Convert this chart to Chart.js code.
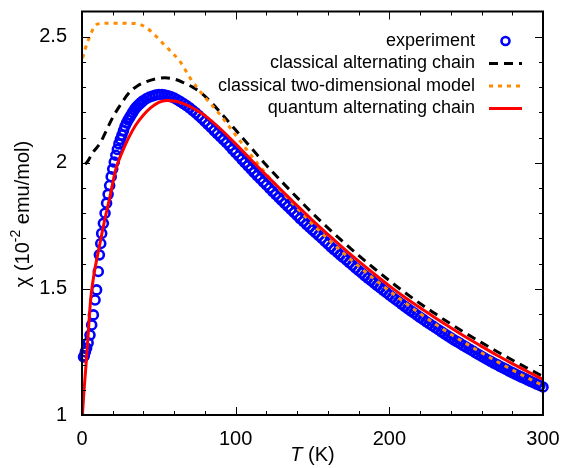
<!DOCTYPE html>
<html>
<head>
<meta charset="utf-8">
<script src="https://cdn.jsdelivr.net/npm/chart.js@4.4.1/dist/chart.umd.min.js"></script>
<style>
  html, body { margin: 0; padding: 0; background: #fff; }
  #wrap { width: 566px; height: 468px; }
</style>
</head>
<body>
<div id="wrap"><canvas id="chi"></canvas></div>
<script>
// 读图估计的数据 (T in K, chi in 10^-2 emu/mol)
const tExp = [1.0, 1.5, 2.2, 3.0, 4.0, 5.2, 6.3, 7.4, 8.5, 9.5, 10.6, 11.3, 12.2, 12.8, 13.9, 15, 16, 17, 18, 19,
  20, 21, 22, 23, 24, 25, 26, 27, 28, 29, 30, 31, 32, 33, 34, 35, 36, 37, 38, 39,
  40, 42, 44, 46, 48, 50, 52, 54, 56, 58,
  60, 62, 64, 66, 68, 70, 72, 74, 76, 78, 80, 82, 84, 86, 88, 90, 92, 94, 96, 98,
  100, 102, 104, 106, 108, 110, 112, 114, 116, 118, 120, 122, 124, 126, 128, 130, 132, 134, 136, 138,
  140, 142, 144, 146, 148, 150, 152, 154, 156, 158, 160, 162, 164, 166, 168, 170, 172, 174, 176, 178,
  180, 182, 184, 186, 188, 190, 192, 194, 196, 198, 200, 202, 204, 206, 208, 210, 212, 214, 216, 218,
  220, 222, 224, 226, 228, 230, 232, 234, 236, 238, 240, 242, 244, 246, 248, 250, 252, 254, 256, 258,
  260, 262, 264, 266, 268, 270, 272, 274, 276, 278, 280, 282, 284, 286, 288, 290, 292, 294, 296, 298, 300];
const chiExp = [1.23, 1.235, 1.25, 1.265, 1.286, 1.317, 1.357, 1.397, 1.456, 1.496, 1.569, 1.635, 1.68, 1.72, 1.76, 1.80, 1.84, 1.875, 1.91, 1.945,
  1.975, 2.003, 2.03, 2.053, 2.075, 2.093, 2.11, 2.128, 2.145, 2.158, 2.17, 2.18, 2.19, 2.20, 2.21, 2.218, 2.225, 2.231, 2.237, 2.242,
  2.247, 2.255, 2.261, 2.265, 2.269, 2.271, 2.271, 2.269, 2.266, 2.262,
  2.257, 2.25, 2.243, 2.235, 2.227, 2.218, 2.208, 2.198, 2.187, 2.176, 2.164, 2.152, 2.14, 2.128, 2.116, 2.104, 2.092, 2.08, 2.067, 2.053,
  2.04, 2.027, 2.014, 2.001, 1.988, 1.975, 1.962, 1.949, 1.937, 1.924, 1.912, 1.90, 1.887, 1.875, 1.863, 1.851, 1.839, 1.827, 1.815, 1.803,
  1.791, 1.779, 1.768, 1.756, 1.745, 1.734, 1.723, 1.712, 1.701, 1.689, 1.678, 1.667, 1.656, 1.646, 1.635, 1.625, 1.615, 1.604, 1.594, 1.583,
  1.573, 1.563, 1.553, 1.543, 1.534, 1.524, 1.514, 1.505, 1.495, 1.486, 1.476, 1.467, 1.458, 1.449, 1.44, 1.431, 1.422, 1.413, 1.405, 1.396,
  1.387, 1.379, 1.37, 1.362, 1.354, 1.346, 1.338, 1.33, 1.322, 1.314, 1.306, 1.298, 1.291, 1.284, 1.276, 1.269, 1.262, 1.255, 1.247, 1.24,
  1.233, 1.226, 1.219, 1.213, 1.206, 1.20, 1.193, 1.187, 1.181, 1.174, 1.168, 1.162, 1.156, 1.15, 1.145, 1.139, 1.133, 1.128, 1.122, 1.117, 1.111];

const tClassic = [2, 3, 7, 12, 16, 20, 25, 31, 36, 42, 48, 54, 60, 66, 72, 77, 84, 90, 100, 110, 120, 130, 140, 150, 160, 170, 180, 190, 200,
  210, 220, 230, 240, 250, 260, 270, 280, 290, 300];
const chiClassic = [1.995, 2.0, 2.04, 2.08, 2.13, 2.18, 2.23, 2.28, 2.305, 2.322, 2.333, 2.337, 2.332, 2.318, 2.30, 2.28, 2.24, 2.20, 2.13, 2.06, 1.99, 1.925, 1.862, 1.80, 1.742, 1.686, 1.633, 1.582, 1.533,
  1.486, 1.442, 1.401, 1.361, 1.323, 1.287, 1.252, 1.218, 1.185, 1.153];

const t2D = [0.4, 2, 4, 6, 8, 10, 15, 20, 25, 30, 35, 38, 42, 46, 50, 54, 58, 64, 70, 76, 80, 85, 90, 95, 100, 110, 120, 130, 140, 150, 160, 170, 180, 190, 200,
  210, 220, 230, 240, 250, 260, 270, 280, 290, 300];
const chi2D = [2.415, 2.45, 2.485, 2.515, 2.54, 2.55, 2.553, 2.553, 2.554, 2.553, 2.552, 2.548, 2.535, 2.515, 2.49, 2.465, 2.44, 2.40, 2.34, 2.29, 2.26, 2.225, 2.19, 2.15, 2.11, 2.03, 1.955, 1.885, 1.82, 1.757, 1.698, 1.643, 1.59, 1.54, 1.492,
  1.446, 1.402, 1.36, 1.32, 1.283, 1.247, 1.212, 1.179, 1.147, 1.117];

const tQuantum = [0.3, 1, 2, 3, 4, 5, 6, 8, 10, 12, 15, 18, 22, 26, 30, 35, 40, 45, 50, 55, 60, 65, 70, 75, 80, 90, 100, 110, 120, 130, 140, 150, 160, 170, 180, 190, 200,
  210, 220, 230, 240, 250, 260, 270, 280, 290, 300];
const chiQuantum = [1.0, 1.07, 1.15, 1.23, 1.32, 1.41, 1.48, 1.565, 1.63, 1.69, 1.78, 1.86, 1.975, 2.04, 2.095, 2.15, 2.19, 2.22, 2.24, 2.247, 2.245, 2.237, 2.224, 2.207, 2.187, 2.135, 2.075, 2.012, 1.95, 1.89, 1.83, 1.772, 1.716, 1.662, 1.61, 1.56, 1.512,
  1.467, 1.425, 1.385, 1.346, 1.308, 1.272, 1.237, 1.204, 1.172, 1.141];

const xTicks = [0, 100, 200, 300];
const yTicks = [1, 1.5, 2, 2.5];
const legendLabels = ['experiment', 'classical alternating chain', 'classical two-dimensional model', 'quantum alternating chain'];

const FONT = 'Liberation Sans, Arial, Helvetica, sans-serif';

function pairs(xs, ys) {
    return xs.map((x, i) => ({ x: x, y: ys[i] }));
}

// 去掉刻度标签带来的额外边距, 让绘图区位置固定
function noPad(s) {
    s.paddingTop = 0;
    s.paddingBottom = 0;
    s.paddingLeft = 0;
    s.paddingRight = 0;
}

// 画框、向内的刻度、轴标题和图例
const decorPlugin = {
    id: 'decor',
    afterDatasetsDraw(chart) {
        const ctx = chart.ctx;
        const a = chart.chartArea;
        const xs = chart.scales.x, ys = chart.scales.y;
        ctx.save();
        ctx.strokeStyle = '#000';
        ctx.lineWidth = 1;
        // minor ticks
        for (let v = 20; v < 300; v += 20) {
            if (v % 100 === 0) continue;
            const px = Math.round(xs.getPixelForValue(v)) + 0.5;
            ctx.beginPath();
            ctx.moveTo(px, a.bottom); ctx.lineTo(px, a.bottom - 4);
            ctx.moveTo(px, a.top); ctx.lineTo(px, a.top + 4);
            ctx.stroke();
        }
        for (let k = 11; k < 26; k++) {
            if (k % 5 === 0) continue;
            const py = Math.round(ys.getPixelForValue(k / 10)) + 0.5;
            ctx.beginPath();
            ctx.moveTo(a.left, py); ctx.lineTo(a.left + 4, py);
            ctx.moveTo(a.right, py); ctx.lineTo(a.right - 4, py);
            ctx.stroke();
        }
        // major ticks
        xTicks.forEach(v => {
            const px = Math.round(xs.getPixelForValue(v)) + 0.5;
            ctx.beginPath();
            ctx.moveTo(px, a.bottom); ctx.lineTo(px, a.bottom - 8);
            ctx.moveTo(px, a.top); ctx.lineTo(px, a.top + 8);
            ctx.stroke();
        });
        yTicks.forEach(v => {
            const py = Math.round(ys.getPixelForValue(v)) + 0.5;
            ctx.beginPath();
            ctx.moveTo(a.left, py); ctx.lineTo(a.left + 8, py);
            ctx.moveTo(a.right, py); ctx.lineTo(a.right - 8, py);
            ctx.stroke();
        });
        // frame
        ctx.lineWidth = 2;
        ctx.strokeRect(a.left, a.top, a.right - a.left, a.bottom - a.top);
        ctx.restore();
    },
    afterDraw(chart) {
        const ctx = chart.ctx;
        const a = chart.chartArea;
        ctx.save();
        ctx.fillStyle = '#000';
        ctx.textBaseline = 'middle';

        // x title: T (K)
        const italic = 'italic 20px ' + FONT, normal = '20px ' + FONT;
        ctx.font = italic;
        const wT = ctx.measureText('T').width;
        ctx.font = normal;
        const wK = ctx.measureText(' (K)').width;
        const cx = (a.left + a.right) / 2;
        const x0 = cx - (wT + wK) / 2;
        ctx.textAlign = 'left';
        ctx.font = italic;
        ctx.fillText('T', x0, 455);
        ctx.font = normal;
        ctx.fillText(' (K)', x0 + wT, 455);

        // y title: χ (10^-2 emu/mol)
        ctx.translate(23, 214);
        ctx.rotate(-Math.PI / 2);
        const sup = '14px ' + FONT;
        ctx.font = normal;
        const w1 = ctx.measureText('χ (10').width;
        const w3 = ctx.measureText(' emu/mol)').width;
        ctx.font = sup;
        const w2 = ctx.measureText('-2').width;
        const s = -(w1 + w2 + w3) / 2;
        ctx.font = normal;
        ctx.fillText('χ (10', s, 0);
        ctx.font = sup;
        ctx.fillText('-2', s + w1, -7);
        ctx.font = normal;
        ctx.fillText(' emu/mol)', s + w1 + w2, 0);
        ctx.restore();

        // legend
        ctx.save();
        ctx.font = '18px ' + FONT;
        ctx.textAlign = 'right';
        ctx.textBaseline = 'middle';
        ctx.fillStyle = '#000';
        const rows = [41, 63.5, 86, 108.5];
        const ds = chart.data.datasets;
        legendLabels.forEach((lab, i) => {
            const y = rows[i];
            ctx.fillText(lab, 475, y);
            const d = ds[i];
            ctx.save();
            ctx.strokeStyle = d.borderColor;
            ctx.lineWidth = d.borderWidth;
            if (i === 0) {
                ctx.beginPath();
                ctx.arc(505.5, y, 4, 0, Math.PI * 2);
                ctx.stroke();
            } else {
                ctx.setLineDash(d.borderDash || []);
                ctx.beginPath();
                ctx.moveTo(489, y);
                ctx.lineTo(522, y);
                ctx.stroke();
            }
            ctx.restore();
        });
        ctx.restore();
    }
};

const ctx = document.getElementById('chi').getContext('2d');
const chart = new Chart(ctx, {
    type: 'scatter',
    data: {
        datasets: [{
            label: legendLabels[0],
            data: pairs(tExp, chiExp),
            borderColor: '#0000ff',
            backgroundColor: 'rgba(0,0,0,0)',
            pointRadius: 4.5,
            pointBorderWidth: 2.6,
            borderWidth: 2.6,
            showLine: false,
            clip: false,
            order: 4
        }, {
            label: legendLabels[1],
            data: pairs(tClassic, chiClassic),
            borderColor: '#000000',
            borderWidth: 3,
            borderDash: [9, 6],
            showLine: true,
            pointRadius: 0,
            cubicInterpolationMode: 'monotone',
            clip: false,
            order: 3
        }, {
            label: legendLabels[2],
            data: pairs(t2D, chi2D),
            borderColor: '#ff8c00',
            borderWidth: 3,
            borderDash: [4, 5],
            showLine: true,
            pointRadius: 0,
            cubicInterpolationMode: 'monotone',
            clip: false,
            order: 2
        }, {
            label: legendLabels[3],
            data: pairs(tQuantum, chiQuantum),
            borderColor: '#ff0000',
            borderWidth: 3,
            showLine: true,
            pointRadius: 0,
            cubicInterpolationMode: 'monotone',
            clip: false,
            order: 1
        }]
    },
    options: {
        responsive: true,
        maintainAspectRatio: false,
        animation: false,
        devicePixelRatio: 1,
        layout: {
            padding: { left: 0, right: 23, top: 11.5, bottom: 0 }
        },
        plugins: {
            legend: { display: false },
            tooltip: { enabled: false }
        },
        scales: {
            x: {
                type: 'linear',
                min: 0,
                max: 300,
                grid: { display: false, drawTicks: false },
                border: { display: false },
                ticks: {
                    color: '#000',
                    font: { size: 20, family: FONT },
                    padding: 12,
                    maxRotation: 0,
                    callback: v => String(v)
                },
                afterBuildTicks: s => { s.ticks = xTicks.map(v => ({ value: v })); },
                afterFit: s => { s.height = 53; noPad(s); }
            },
            y: {
                type: 'linear',
                min: 1,
                max: 2.6,
                grid: { display: false, drawTicks: false },
                border: { display: false },
                ticks: {
                    color: '#000',
                    font: { size: 20, family: FONT },
                    padding: 15,
                    callback: v => String(v)
                },
                afterBuildTicks: s => { s.ticks = yTicks.map(v => ({ value: v })); },
                afterFit: s => { s.width = 82; noPad(s); }
            }
        }
    },
    plugins: [decorPlugin]
});
</script>
</body>
</html>
